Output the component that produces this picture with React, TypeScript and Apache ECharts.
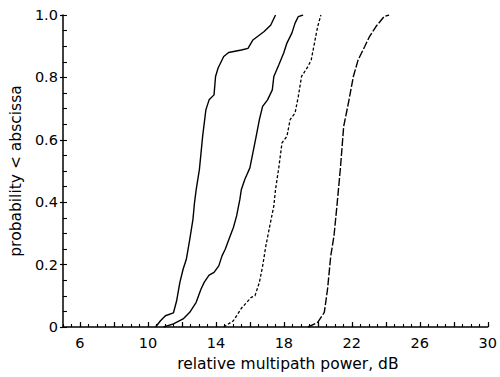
import React, { useEffect, useRef } from "react";
import * as echarts from "echarts";

const xLabelValues = [6, 10, 14, 18, 22, 26, 30];
const xMajorTicks = [6, 8, 10, 12, 14, 16, 18, 20, 22, 24, 26, 28, 30];
const yLabelValues = [0, 0.2, 0.4, 0.6, 0.8, 1.0];

const curve1: [number, number][] = [
  [10.45, 0], [10.74, 0.02], [11.03, 0.036], [11.5, 0.045], [11.69, 0.084], [11.88, 0.143],
  [12.07, 0.185], [12.26, 0.217], [12.46, 0.28], [12.65, 0.345], [12.74, 0.398], [12.84, 0.44],
  [13.03, 0.505], [13.22, 0.611], [13.41, 0.696], [13.6, 0.728], [13.89, 0.744], [13.98, 0.803],
  [14.13, 0.83], [14.46, 0.867], [14.75, 0.88], [15.5, 0.888], [15.89, 0.893], [16.18, 0.92],
  [16.84, 0.947], [17.23, 0.968], [17.51, 1.0],
];
const curve2: [number, number][] = [
  [10.93, 0], [11.5, 0.01], [12.07, 0.026], [12.46, 0.047], [12.84, 0.079], [13.12, 0.121],
  [13.31, 0.143], [13.6, 0.166], [13.89, 0.175], [14.17, 0.196], [14.36, 0.228], [14.55, 0.249],
  [14.84, 0.292], [15.03, 0.319], [15.22, 0.356], [15.41, 0.409], [15.5, 0.441], [15.7, 0.473],
  [16.0, 0.51], [16.37, 0.611], [16.56, 0.665], [16.75, 0.707], [17.04, 0.728], [17.32, 0.76],
  [17.41, 0.803], [17.7, 0.84], [17.99, 0.878], [18.18, 0.91], [18.47, 0.942], [18.66, 0.974],
  [18.85, 0.995], [19.13, 1.0],
];
const curve3: [number, number][] = [
  [14.46, 0], [15.03, 0.02], [15.5, 0.06], [16.08, 0.095], [16.3, 0.1], [16.56, 0.143],
  [16.75, 0.195], [16.94, 0.26], [17.23, 0.34], [17.41, 0.388], [17.51, 0.441], [17.7, 0.51],
  [17.89, 0.59], [18.18, 0.611], [18.37, 0.665], [18.66, 0.686], [18.85, 0.739], [19.04, 0.803],
  [19.42, 0.835], [19.61, 0.856], [19.8, 0.91], [19.99, 0.963], [20.18, 1.0],
];
const curve4: [number, number][] = [
  [19.42, 0], [19.99, 0.015], [20.38, 0.047], [20.57, 0.121], [20.76, 0.228], [20.95, 0.292],
  [21.14, 0.398], [21.33, 0.51], [21.52, 0.643], [21.8, 0.718], [22.09, 0.803], [22.37, 0.856],
  [22.76, 0.899], [23.04, 0.931], [23.42, 0.963], [23.9, 0.995], [24.19, 1.0],
];

const FONT = "DejaVu Sans";

export default function App() {
  const ref = useRef<HTMLDivElement>(null);
  useEffect(() => {
    if (!ref.current) return;
    const chart = echarts.init(ref.current, undefined, { renderer: "svg" });
    const line = (data: [number, number][], type: any, width = 1.4) => ({
      type: "line",
      data,
      showSymbol: false,
      symbol: "none",
      xAxisIndex: 0,
      yAxisIndex: 0,
      lineStyle: { color: "#000", width, type },
      silent: true,
    });
    chart.setOption({
      animation: false,
      backgroundColor: "#fff",
      grid: { left: 56.5, right: 6, top: 15, bottom: 49 },
      xAxis: [
        {
          type: "value",
          min: 5,
          max: 30,
          position: "bottom",
          name: "relative multipath power, dB",
          nameLocation: "middle",
          nameGap: 29,
          nameTextStyle: { fontFamily: FONT, fontSize: 15.5, color: "#000", padding: [0, 0, 0, 25] },
          axisLine: { lineStyle: { color: "#000", width: 1.5 } },
          axisTick: { inside: true, length: 5, customValues: xMajorTicks, lineStyle: { color: "#000", width: 1.2 } },
          axisLabel: { customValues: xLabelValues, margin: 8, fontFamily: FONT, fontSize: 14.5, color: "#000" },
          splitLine: { show: false },
        },
        {
          type: "value",
          min: 5,
          max: 30,
          interval: 0.5,
          position: "bottom",
          axisLine: { show: false },
          axisTick: { inside: true, length: 3, lineStyle: { color: "#000", width: 1.1 } },
          axisLabel: { show: false },
          splitLine: { show: false },
        },
      ],
      yAxis: [
        {
          type: "value",
          min: 0,
          max: 1,
          interval: 0.2,
          position: "left",
          name: "probability < abscissa",
          nameLocation: "middle",
          nameRotate: 90,
          nameGap: 31,
          nameTextStyle: { fontFamily: FONT, fontSize: 15.5, color: "#000" },
          axisLine: { lineStyle: { color: "#000", width: 1.5 } },
          axisTick: { inside: false, length: 3, lineStyle: { color: "#000", width: 1.2 } },
          axisLabel: {
            customValues: yLabelValues,
            margin: 5,
            fontFamily: FONT,
            fontSize: 14.5,
            color: "#000",
            formatter: (v: number) => (v === 0 ? "0" : v.toFixed(1)),
          },
          splitLine: { show: false },
        },
        {
          type: "value",
          min: 0,
          max: 1,
          interval: 0.05,
          position: "left",
          axisLine: { show: false },
          axisTick: { inside: true, length: 4, lineStyle: { color: "#000", width: 1.1 } },
          axisLabel: { show: false },
          splitLine: { show: false },
        },
      ],
      series: [
        line(curve1, "solid"),
        line(curve2, "solid"),
        line(curve3, [3, 2], 1.3),
        line(curve4, [8, 2], 1.4),
      ],
    });
    return () => chart.dispose();
  }, []);
  return <div ref={ref} style={{ width: 500, height: 377, position: "absolute", left: 0, top: 0, background: "#fff" }} />;
}
